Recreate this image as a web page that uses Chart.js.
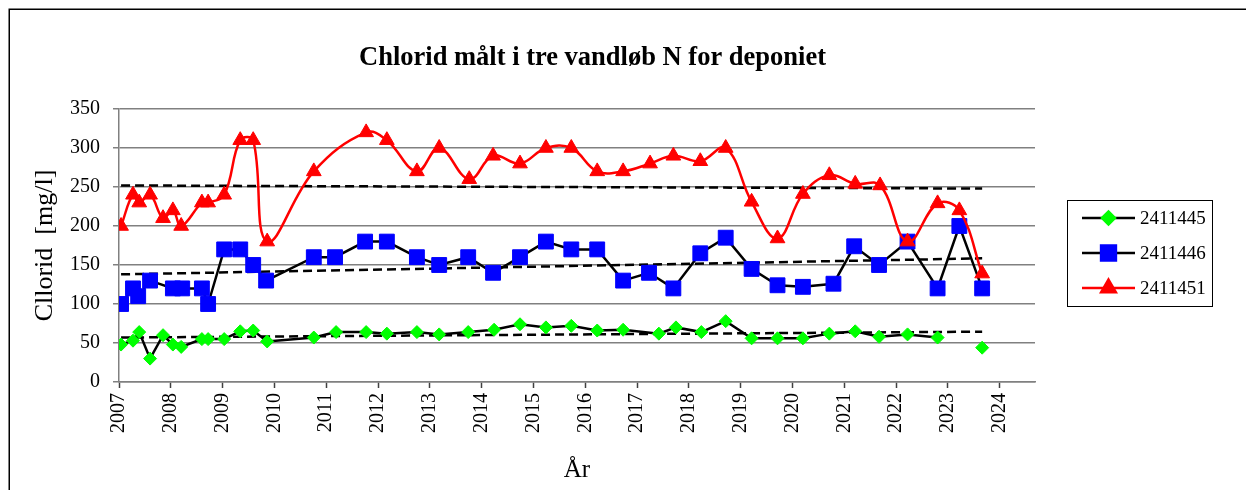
<!DOCTYPE html>
<html><head><meta charset="utf-8">
<script src="https://cdn.jsdelivr.net/npm/chart.js@4.4.1/dist/chart.umd.min.js"></script>
<style>html,body{margin:0;padding:0;background:#fff;}canvas{display:block;}</style>
</head><body>
<canvas id="c" width="1246" height="490"></canvas>
<script>
const TITLE = 'Chlorid målt i tre vandløb N for deponiet';
const Y_TITLE = 'Cllorid  [mg/l]';
const X_TITLE = 'År';
const X_TICKS = [2007,2008,2009,2010,2011,2012,2013,2014,2015,2016,2017,2018,2019,2020,2021,2022,2023,2024];
const SERIES_NAMES = ['2411445','2411446','2411451'];

const dates2411445 = [2007.04,2007.27,2007.39,2007.60,2007.85,2008.04,2008.20,2008.60,2008.72,2009.03,
  2009.34,2009.59,2009.86,2010.76,2011.19,2011.77,2012.17,2012.75,2013.18,2013.74,
  2014.24,2014.74,2015.24,2015.73,2016.23,2016.73,2017.42,2017.75,2018.24,2018.71,
  2019.21,2019.71,2020.20,2020.71,2021.21,2021.67,2022.22,2022.80,2023.22,2023.66];
const values2411445 = [48,53,64,30,60,48,45,55,55,55,
  65,66,52,57,64,64,62,64,61,64,
  67,74,70,72,66,67,62,70,64,78,
  56,56,56,62,65,58,61,57,null,44];

const dates2411446 = [2007.04,2007.27,2007.37,2007.60,2008.04,2008.22,2008.60,2008.72,2009.03,2009.34,
  2009.59,2009.84,2010.76,2011.17,2011.75,2012.17,2012.75,2013.18,2013.74,2014.22,
  2014.74,2015.24,2015.73,2016.23,2016.73,2017.23,2017.70,2018.22,2018.71,2019.21,
  2019.71,2020.20,2020.79,2021.19,2021.67,2022.22,2022.80,2023.22,2023.66];
const values2411446 = [100,120,110,130,120,120,120,100,170,170,
  150,130,160,160,180,180,160,150,160,140,
  160,180,170,170,130,140,120,165,185,145,
  124,122,126,174,150,180,120,200,120];

const dates2411451 = [2007.04,2007.27,2007.39,2007.60,2007.85,2008.04,2008.20,2008.60,2008.72,2009.03,
  2009.34,2009.59,2009.86,2010.76,2011.77,2012.17,2012.75,2013.18,2013.76,2014.22,
  2014.74,2015.24,2015.73,2016.23,2016.73,2017.25,2017.70,2018.22,2018.71,2019.21,
  2019.71,2020.20,2020.71,2021.21,2021.69,2022.22,2022.80,2023.22,2023.66];
const values2411451 = [200,240,230,240,210,220,200,230,230,240,
  310,310,180,270,320,310,270,300,260,290,
  280,300,300,270,270,280,290,283,300,231,
  184,241,265,254,252,180,229,220,139];

const trendDates = [2007.04, 2023.66];
const trend2411445 = [57, 64.5];
const trend2411446 = [138, 158.5];
const trend2411451 = [252, 248];

const FONT = "'Liberation Serif', 'Times New Roman', serif";
const pts = (xs, ys) => xs.map((x, i) => ({x: x, y: ys[i]}));

const seriesDataset = (label, xs, ys, lineColor, fill, style, radius, order, tension) => ({
  label, data: pts(xs, ys), yAxisID: 'y', order,
  borderColor: lineColor, borderWidth: 2.5, tension: tension, spanGaps: false,
  pointStyle: style, pointRadius: radius, pointHoverRadius: radius,
  pointBackgroundColor: fill, pointBorderColor: fill, pointBorderWidth: 1
});
const trendDataset = (xs, ys) => ({
  label: 'trend', isTrend: true, data: pts(xs, ys), yAxisID: 'y', order: 3,
  borderColor: '#000', borderWidth: 2.5, borderDash: [9, 5], pointRadius: 0, tension: 0
});

const decor = {
  id: 'decor',
  beforeDraw(chart) {
    const ctx = chart.ctx;
    ctx.save();
    ctx.fillStyle = '#fff';
    ctx.fillRect(0, 0, chart.width, chart.height);
    ctx.strokeStyle = '#000';
    ctx.lineWidth = 1.5;
    ctx.beginPath();
    ctx.moveTo(9.25, chart.height);
    ctx.lineTo(9.25, 9.25);
    ctx.lineTo(chart.width, 9.25);
    ctx.stroke();
    ctx.restore();
  },
  afterDraw(chart) {
    const ctx = chart.ctx;
    ctx.save();
    ctx.strokeStyle = '#000';
    ctx.lineWidth = 1;
    ctx.strokeRect(1067.5, 200.5, 145, 106);
    const rows = [218, 253, 288];
    for (let i = 0; i < 3; i++) {
      const ds = chart.data.datasets[i];
      const y = rows[i];
      ctx.strokeStyle = ds.borderColor;
      ctx.lineWidth = 2.5;
      ctx.setLineDash([]);
      ctx.beginPath(); ctx.moveTo(1082, y); ctx.lineTo(1135, y); ctx.stroke();
      ctx.fillStyle = ds.pointBackgroundColor;
      ctx.strokeStyle = ds.pointBorderColor;
      Chart.helpers.drawPoint(ctx, {pointStyle: ds.pointStyle, radius: ds.pointRadius, rotation: 0, borderWidth: 1}, 1108.5, y);
      ctx.fillStyle = '#000';
      ctx.font = "19px " + FONT;
      ctx.textAlign = 'left';
      ctx.textBaseline = 'middle';
      ctx.fillText(SERIES_NAMES[i], 1140, y + 1);
    }
    ctx.restore();
  }
};

new Chart(document.getElementById('c'), {
  type: 'line',
  data: {
    datasets: [
      seriesDataset(SERIES_NAMES[0], dates2411445, values2411445, '#000000', '#00FF00', 'rectRot', 6.5, 2, 0),
      seriesDataset(SERIES_NAMES[1], dates2411446, values2411446, '#000000', '#0000FF', 'rect', 10.5, 1, 0),
      seriesDataset(SERIES_NAMES[2], dates2411451, values2411451, '#FF0000', '#FF0000', 'triangle', 8.5, 0, 0.4),
      trendDataset(trendDates, trend2411445),
      trendDataset(trendDates, trend2411446),
      trendDataset(trendDates, trend2411451)
    ]
  },
  options: {
    responsive: false,
    animation: false,
    devicePixelRatio: 1,
    layout: {padding: {left: 0, right: 61, top: 0, bottom: 0}},
    plugins: {
      legend: {display: false},
      tooltip: {enabled: false},
      title: {
        display: true, text: TITLE, color: '#000',
        font: {family: FONT, size: 26.5, weight: 'bold', lineHeight: 1.2},
        padding: {top: 42, bottom: 35.2}
      }
    },
    scales: {
      x: {
        type: 'linear', position: 'bottom', min: 2007, max: 2024.68,
        afterBuildTicks: (s) => { s.ticks = X_TICKS.map(v => ({value: v})); },
        afterFit: (s) => { s.height = 108; },
        ticks: {
          autoSkip: false, minRotation: 90, maxRotation: 90, padding: 5,
          color: '#000', font: {family: FONT, size: 20},
          callback: (v) => String(v)
        },
        grid: {drawOnChartArea: false, drawTicks: true, tickLength: 6, tickColor: '#404040', tickWidth: 1.5},
        border: {display: true, color: '#808080', width: 1.5},
        title: {display: true, text: X_TITLE, color: '#000', font: {family: FONT, size: 25, lineHeight: 1.2}, padding: {top: 5, bottom: 5}}
      },
      y: {
        type: 'linear', position: 'left', min: 0, max: 350,
        afterFit: (s) => { s.width = 119; },
        ticks: {stepSize: 50, padding: 13, color: '#000', font: {family: FONT, size: 20}},
        grid: {color: '#808080', lineWidth: 1.5, drawTicks: true, tickLength: 6, tickColor: '#808080'},
        border: {display: true, color: '#808080', width: 1.5},
        title: {display: true, text: Y_TITLE, color: '#000', font: {family: FONT, size: 26, lineHeight: 1.2}, padding: {top: 29.4, bottom: 29.4}}
      },
      legendSpace: {
        type: 'linear', position: 'right', display: true,
        afterFit: (s) => { s.width = 150; },
        ticks: {display: false},
        grid: {display: false, drawTicks: false},
        border: {display: false}
      }
    }
  },
  plugins: [decor]
});
</script>
</body></html>
